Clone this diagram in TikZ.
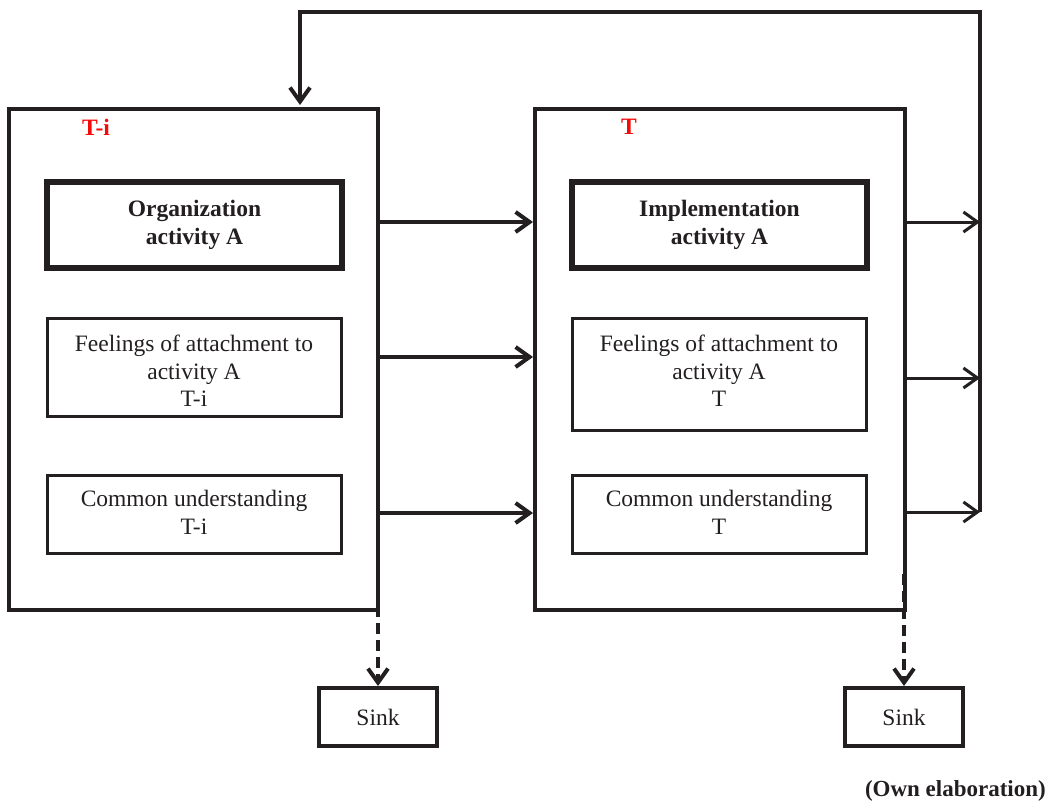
\documentclass[tikz,border=0pt]{standalone}
\usepackage{fontspec}
\setmainfont{Liberation Serif}
\usetikzlibrary{arrows.meta,calc,shadows}
\definecolor{ink}{RGB}{35,31,32}
\definecolor{tred}{RGB}{245,10,10}
\begin{document}
\begin{tikzpicture}[x=1pt,y=-1pt,
  every node/.style={font=\fontsize{23.5}{27.5}\selectfont, align=center, inner sep=0pt, text=ink},
  soft/.style={drop shadow={opacity=0.15, shadow xshift=2pt, shadow yshift=-2pt}},
  frame/.style={draw=ink, line width=4pt, fill=white, soft},
  keybox/.style={draw=ink, line width=6.5pt, fill=white, soft, font=\bfseries\fontsize{23.5}{27.5}\selectfont},
  plainbox/.style={draw=ink, line width=3pt, fill=white, soft},
  sinkbox/.style={draw=ink, line width=4pt, fill=white, soft},
  tag/.style={text=tred, font=\bfseries\fontsize{23.5}{27.5}\selectfont},
  barb/.style={-{Straight Barb[length=14pt,width=20pt,line width=#1]}},
  flow/.style={draw=ink, line width=4pt, barb=4pt},
  outflow/.style={draw=ink, line width=3pt, barb=3pt},
  leak/.style={draw=ink, line width=4pt, dash pattern=on 11pt off 6pt, barb=4pt}
]
\useasboundingbox (0,0) rectangle (1056,803);

% period frames
\node[frame, minimum width=369, minimum height=501] (boxL) at (193.5,359.5) {};
\node[frame, minimum width=370, minimum height=501] (boxR) at (720,359.5) {};

% period labels
\node[tag] (tagL) at (96,127) {T-i};
\node[tag] (tagR) at (629,127) {T};

% contents of period T-i
\node[keybox, minimum width=295, minimum height=86] (orgA) at (194.5,225) {Organization\\activity A};
\node[plainbox, minimum width=294, minimum height=98] (feelL) at (194,367) {};
\node (feelLtext) at (194,371) {Feelings of attachment to\\activity A\\T-i};
\node[plainbox, minimum width=294, minimum height=78] (commL) at (194,514) {};
\node (commLtext) at (194,512.5) {Common understanding\\T-i};

% contents of period T
\node[keybox, minimum width=295, minimum height=86] (implA) at (719.5,225) {Implementation\\activity A};
\node[plainbox, minimum width=294, minimum height=112] (feelR) at (719,374) {};
\node (feelRtext) at (719,371) {Feelings of attachment to\\activity A\\T};
\node[plainbox, minimum width=294, minimum height=78] (commR) at (719,514) {};
\node (commRtext) at (719,512.5) {Common understanding\\T};

% sinks
\node[sinkbox, minimum width=118, minimum height=58] (sinkL) at (378,717) {Sink};
\node[sinkbox, minimum width=118, minimum height=58] (sinkR) at (904,717) {Sink};

% source credit
\node[font=\bfseries\fontsize{23}{27}\selectfont, anchor=east] (credit) at (1046,791) {(Own elaboration)};

% flows from T-i to T
\draw[flow] ([yshift=3pt]boxL.east |- orgA) -- ([yshift=3pt]boxR.west |- orgA);
\draw[flow] ([yshift=10pt]boxL.east |- feelL) -- ([yshift=10pt]boxR.west |- feelL);
\draw[flow] ([yshift=1pt]boxL.east |- commL) -- ([yshift=1pt]boxR.west |- commL);

% feedback loop
\coordinate (loopB) at (980,512);
\coordinate (loopTL) at (300,12);
\draw[outflow] ([yshift=3pt]boxR.east |- orgA) -- ([yshift=3pt]loopB |- orgA);
\draw[outflow] ([yshift=-4pt]boxR.east |- feelR) -- ([yshift=-4pt]loopB |- feelR);
\draw[outflow] (boxR.east |- loopB) -- (loopB);
\draw[flow, line join=miter] (loopB) |- (loopTL) -- ([yshift=2pt]loopTL |- boxL.north);

% leakage to sinks
\coordinate (leakL) at (378,572);
\coordinate (leakR) at (904,574);
\draw[leak] (leakL) -- (sinkL.north);
\draw[leak] (leakR) -- (sinkR.north);
\end{tikzpicture}
\end{document}
